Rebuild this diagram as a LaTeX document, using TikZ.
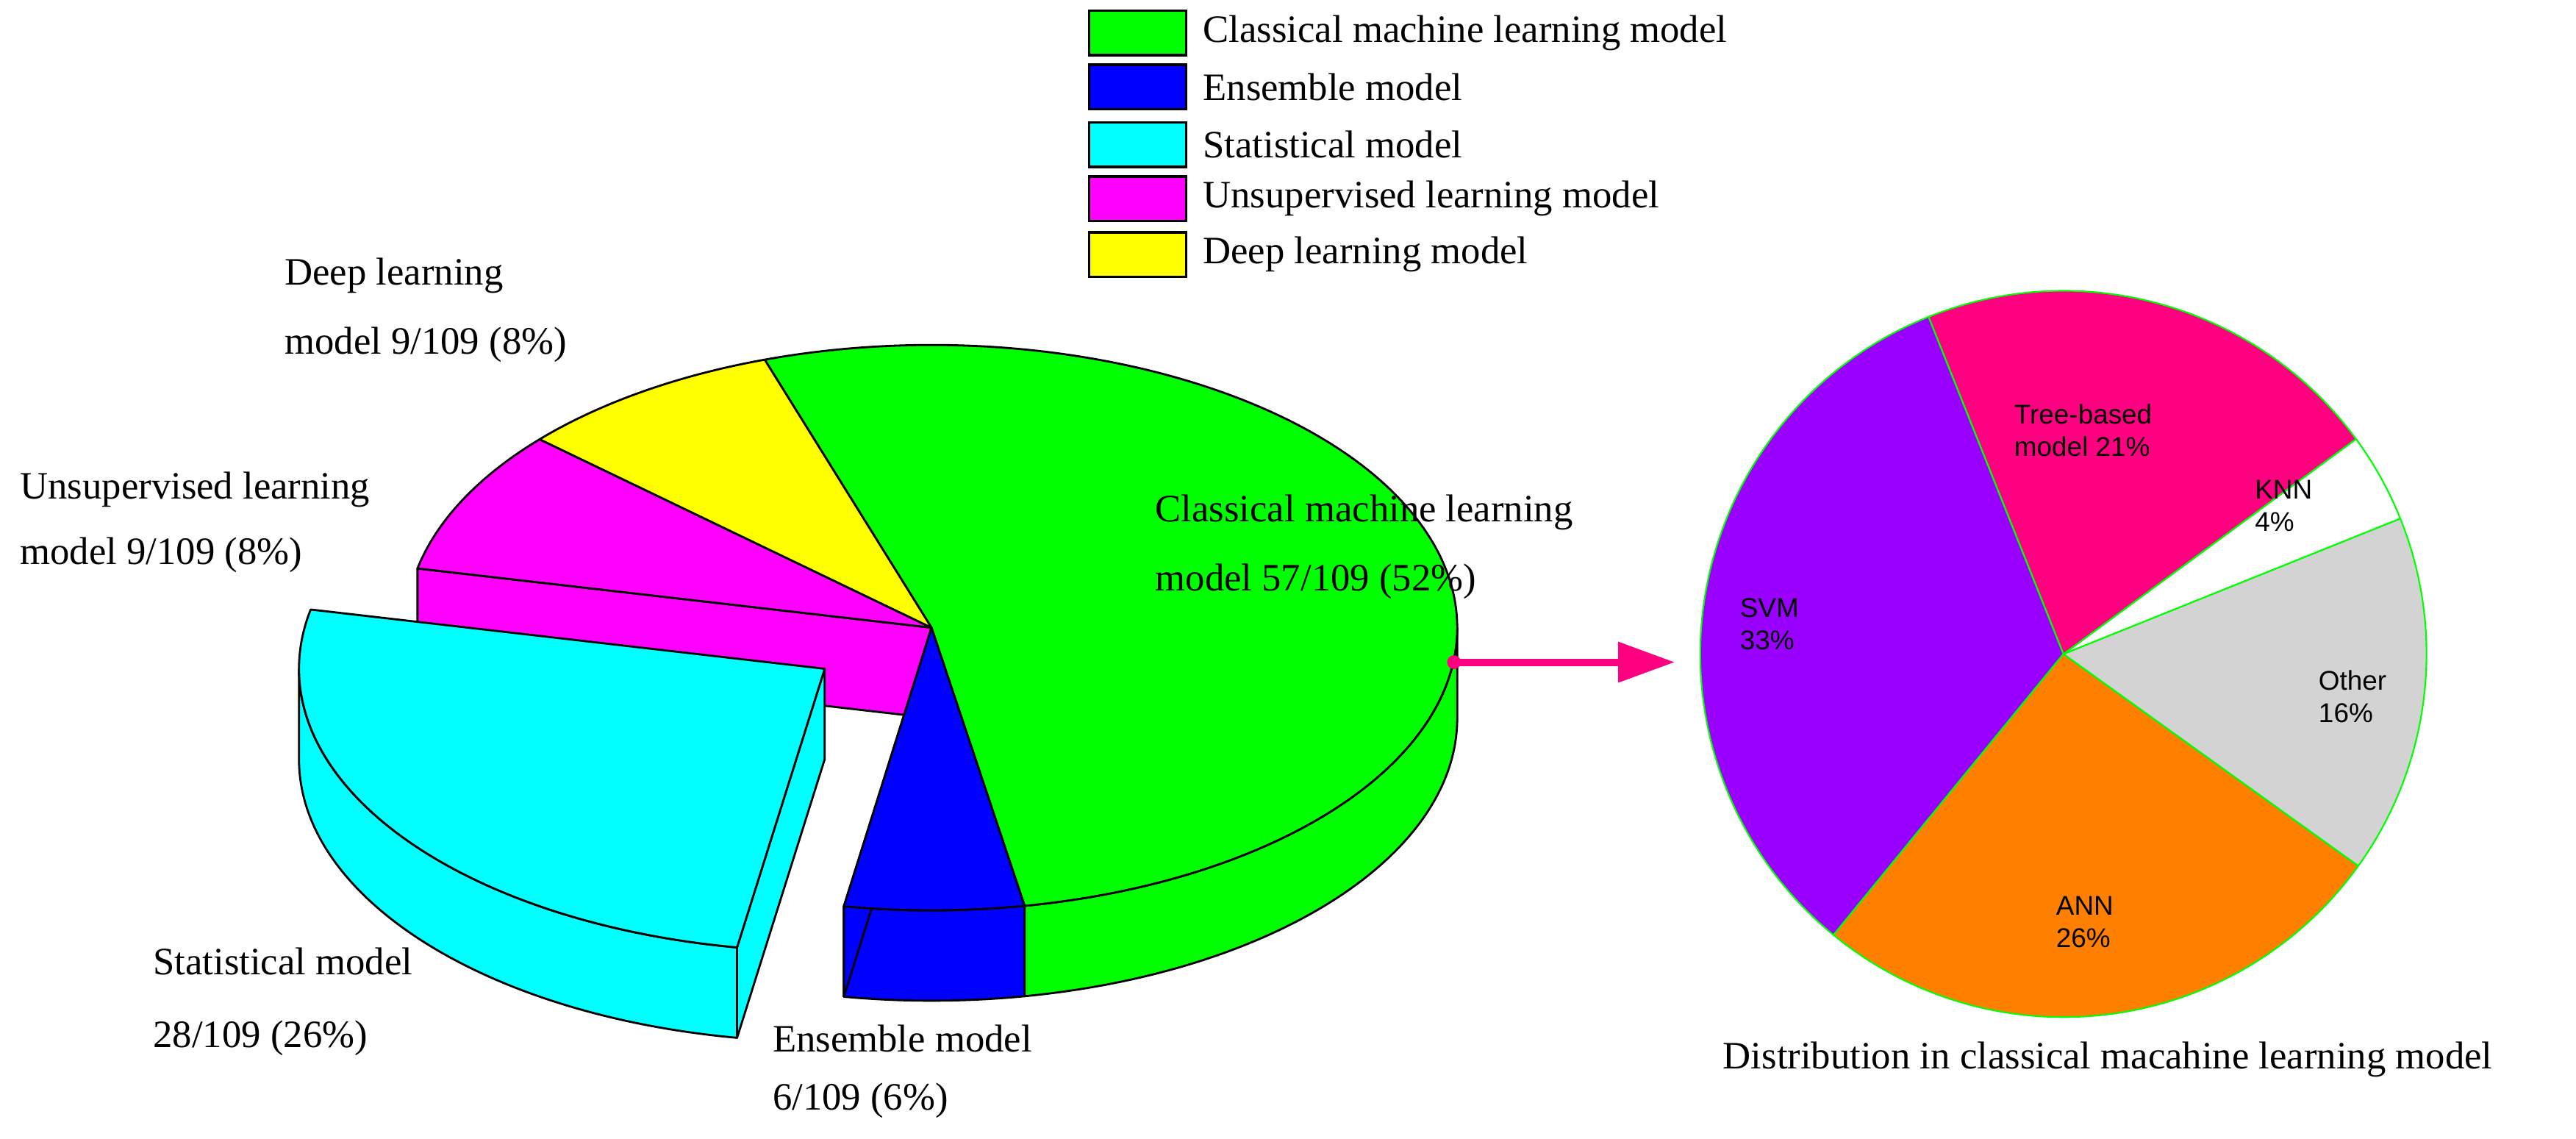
\documentclass[tikz,border=0pt]{standalone}
\usepackage{fontspec}
\setmainfont{Liberation Serif}
\newfontfamily\arialf{Liberation Sans}
\definecolor{pgreen}{RGB}{0,255,0}
\definecolor{pblue}{RGB}{0,0,255}
\definecolor{pcyan}{RGB}{0,255,255}
\definecolor{pmag}{RGB}{255,0,255}
\definecolor{pyel}{RGB}{255,255,0}
\definecolor{ppink}{RGB}{255,0,128}
\definecolor{ppurple}{RGB}{153,0,255}
\definecolor{porange}{RGB}{255,128,0}
\definecolor{pgray}{RGB}{211,211,211}
\begin{document}
\begin{tikzpicture}[x=0.022347cm,y=0.022347cm,
  face/.style={draw=black,line width=0.8pt,line join=round},
  lab/.style={font=\fontsize{15}{17}\selectfont,anchor=west,inner sep=0pt},
  slab/.style={font=\arialf\fontsize{10.5}{12.5}\selectfont,align=left,inner sep=0pt},
  lbox/.style={draw=black,line width=1pt,minimum width=59\pgfkeysvalueof{/pgf/inner xsep}*0+1.32cm,minimum height=0.6cm,inner sep=0pt},
  rw/.style={draw=pgreen,line width=0.6pt,line join=round}]
\useasboundingbox (0,0) rectangle (1568,693);
\def\cx{567}\def\cy{311}\def\rx{320}\def\ry{172}\def\dd{55}
% side faces
\path[face,fill=pgreen] ({\cx+\rx*cos(-79.8)},{\cy+\ry*sin(-79.8)}) arc[start angle=-79.8,end angle=0,x radius=\rx,y radius=\ry] -- ++(0,-\dd) arc[start angle=0,end angle=-79.8,x radius=\rx,y radius=\ry] -- cycle;
\path[face,fill=pblue] ({\cx+\rx*cos(-99.6)},{\cy+\ry*sin(-99.6)}) arc[start angle=-99.6,end angle=-79.8,x radius=\rx,y radius=\ry] -- ++(0,-\dd) arc[start angle=-79.8,end angle=-99.6,x radius=\rx,y radius=\ry] -- cycle;
\path[face,fill=pmag] (\cx,\cy) -- ({\cx+\rx*cos(167.9)},{\cy+\ry*sin(167.9)}) -- ++(0,-\dd) -- (\cx,\cy-\dd) -- cycle;
\path[face,fill=pblue] (\cx,\cy) -- ({\cx+\rx*cos(-99.6)},{\cy+\ry*sin(-99.6)}) -- ++(0,-\dd) -- (\cx,\cy-\dd) -- cycle;
% top faces
\path[face,fill=pgreen] (\cx,\cy) -- ++({\rx*cos(108.5)},{\ry*sin(108.5)}) arc[start angle=108.5,end angle=-79.8,x radius=\rx,y radius=\ry] -- cycle;
\path[face,fill=pblue] (\cx,\cy) -- ++({\rx*cos(-79.8)},{\ry*sin(-79.8)}) arc[start angle=-79.8,end angle=-99.6,x radius=\rx,y radius=\ry] -- cycle;
\path[face,fill=pmag] (\cx,\cy) -- ++({\rx*cos(138.2)},{\ry*sin(138.2)}) arc[start angle=138.2,end angle=167.9,x radius=\rx,y radius=\ry] -- cycle;
\path[face,fill=pyel] (\cx,\cy) -- ++({\rx*cos(108.5)},{\ry*sin(108.5)}) arc[start angle=108.5,end angle=138.2,x radius=\rx,y radius=\ry] -- cycle;
% exploded cyan
\begin{scope}[shift={(-65,-25)}]
\path[face,fill=pcyan] ({\cx+\rx*cos(180)},{\cy+\ry*sin(180)}) arc[start angle=180,end angle=260.4,x radius=\rx,y radius=\ry] -- ++(0,-\dd) arc[start angle=260.4,end angle=180,x radius=\rx,y radius=\ry] -- cycle;
\path[face,fill=pcyan] (\cx,\cy) -- ({\cx+\rx*cos(260.4)},{\cy+\ry*sin(260.4)}) -- ++(0,-\dd) -- (\cx,\cy-\dd) -- cycle;
\path[face,fill=pcyan] (\cx,\cy) -- ++({\rx*cos(167.9)},{\ry*sin(167.9)}) arc[start angle=167.9,end angle=260.4,x radius=\rx,y radius=\ry] -- cycle;
\end{scope}
% left labels
\node[lab] (l1a) at (173,525) {Deep learning};
\node[lab] (l1b) at (173,483) {model 9/109 (8\%)};
\node[lab] (l2a) at (12,395) {Unsupervised learning};
\node[lab] (l2b) at (12,355) {model 9/109 (8\%)};
\node[lab] (l3a) at (703,381) {Classical machine learning};
\node[lab] (l3b) at (703,339) {model 57/109 (52\%)};
\node[lab] (l4a) at (93,108) {Statistical model};
\node[lab] (l4b) at (93,61) {28/109 (26\%)};
\node[lab] (l5a) at (470,61) {Ensemble model};
\node[lab] (l5b) at (470,23) {6/109 (6\%)};
% legend
\foreach \yy/\cc/\tt [count=\i] in {673/pgreen/Classical machine learning model,640/pblue/Ensemble model,605/pcyan/Statistical model,572/pmag/Unsupervised learning model,538/pyel/Deep learning model}{
  \node[draw=black,line width=1pt,fill=\cc,minimum width=59*0.022347cm,minimum height=27*0.022347cm,inner sep=0pt] (lb\i) at (692.5,\yy) {};
  \node[lab] (lt\i) at (732,\yy) {\tt};
}
% arrow
\coordinate (as) at (885,290);
\coordinate (ae) at (1019,290);
\fill[ppink] (as) circle (4.2);
\draw[ppink,line width=4.5*0.022347cm] (as) -- (985,290);
\fill[ppink] (ae) -- (985,302.5) -- (985,277.5) -- cycle;
% right pie
\def\rcx{1256}\def\rcy{295}\def\rr{221}
\path[rw,fill=ppurple] (\rcx,\rcy) -- ++(111.8:\rr) arc[start angle=111.8,end angle=230.7,radius=\rr] -- cycle;
\path[rw,fill=porange] (\rcx,\rcy) -- ++(230.7:\rr) arc[start angle=230.7,end angle=324.3,radius=\rr] -- cycle;
\path[rw,fill=pgray] (\rcx,\rcy) -- ++(-35.7:\rr) arc[start angle=-35.7,end angle=21.9,radius=\rr] -- cycle;
\path[rw,fill=white] (\rcx,\rcy) -- ++(21.9:\rr) arc[start angle=21.9,end angle=36.3,radius=\rr] -- cycle;
\path[rw,fill=ppink] (\rcx,\rcy) -- ++(36.3:\rr) arc[start angle=36.3,end angle=111.8,radius=\rr] -- cycle;
\node[slab] (rt) at (1268,431) {Tree-based\\model 21\%};
\node[slab] (rk) at (1390,385) {KNN\\4\%};
\node[slab] (rs) at (1077,313) {SVM\\33\%};
\node[slab] (ro) at (1432,269) {Other\\16\%};
\node[slab] (ra) at (1269,132) {ANN\\26\%};
\node[font=\fontsize{15}{17}\selectfont,inner sep=0pt] (title) at (1283,48) {Distribution in classical macahine learning model};
\end{tikzpicture}
\end{document}
